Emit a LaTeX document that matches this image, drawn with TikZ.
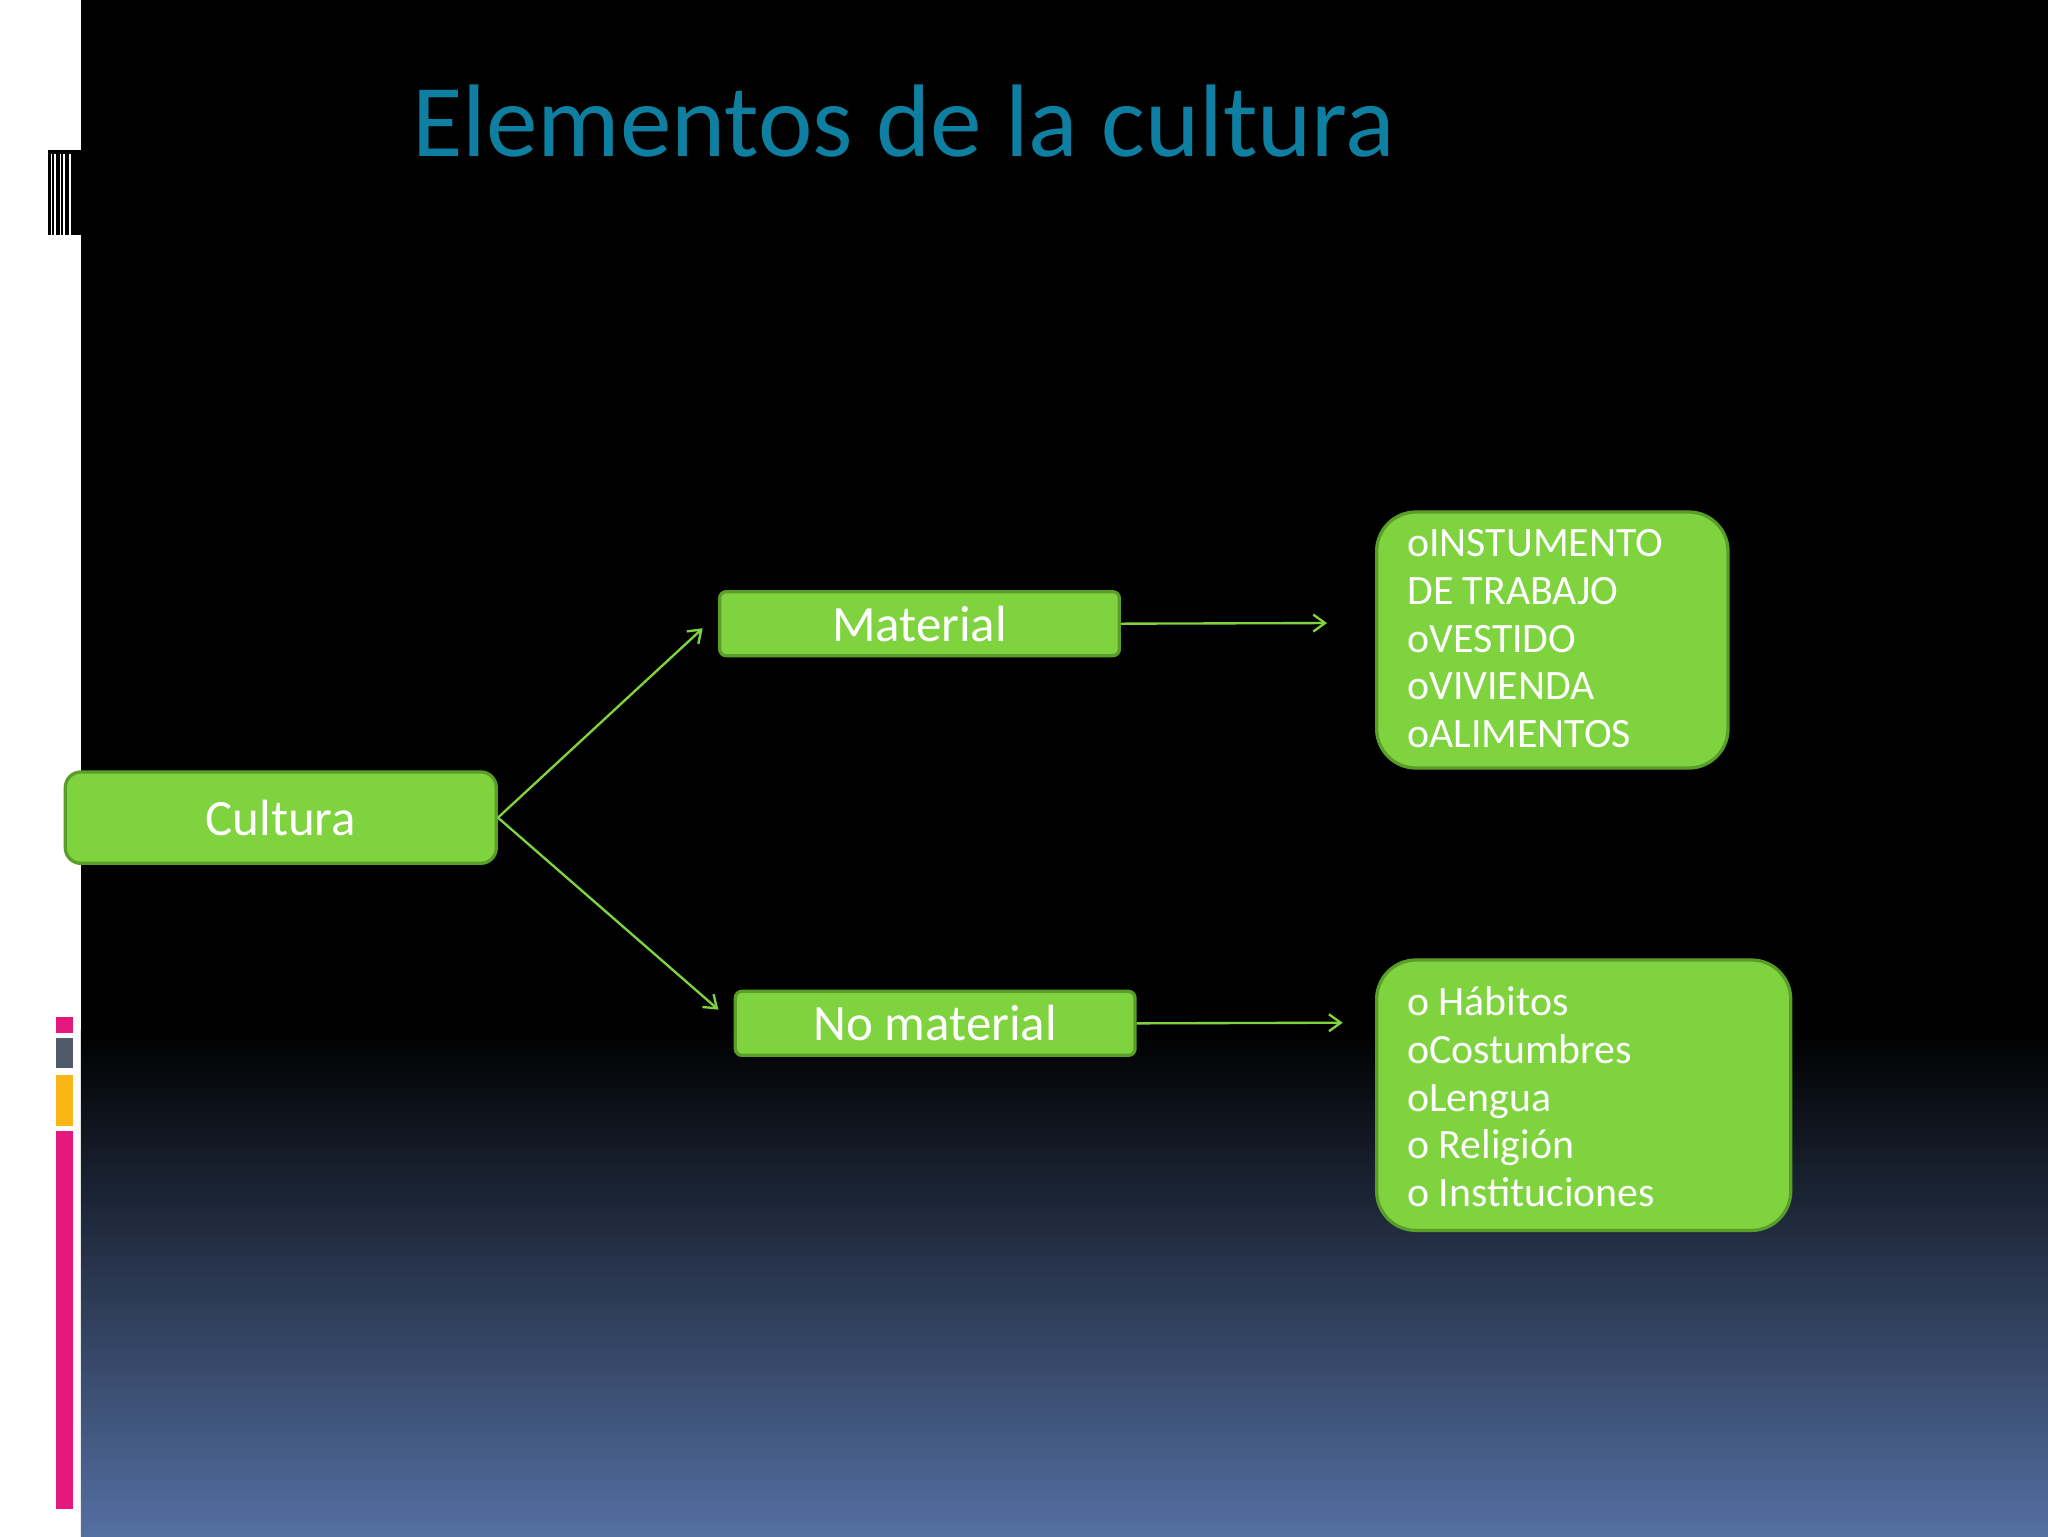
\documentclass[tikz,border=0pt]{standalone}
\usepackage{fontspec}
\setmainfont{Carlito}
\usetikzlibrary{arrows.meta}
\definecolor{gr}{HTML}{7ED33E}
\definecolor{grd}{HTML}{5A9E2A}
\definecolor{ttl}{HTML}{0E7FA0}
\definecolor{bot}{HTML}{546FA2}
\definecolor{pk}{HTML}{E6177D}
\definecolor{gy}{HTML}{505A69}
\definecolor{og}{HTML}{FAB414}
\begin{document}
\begin{tikzpicture}[x=1pt,y=-1pt,
  box/.style={fill=gr,draw=grd,line width=2.5pt,text=white,inner sep=0pt},
  conn/.style={draw=gr,line width=1.8pt,-{Straight Barb[length=9pt,width=13pt]}}]
\useasboundingbox (0,0) rectangle (1568,1176);
\fill[white] (0,0) rectangle (1568,1176);
\fill[black] (62,0) rectangle (1568,790);
\shade[top color=black,bottom color=bot] (62,789) rectangle (1568,1176);
% barcode
\foreach \x/\w in {37/2,40/1.5,43/3,47/1.5,50/3,54/8}{\fill[black] (\x,115) rectangle (\x+\w,180);}
\fill[black] (37,115) rectangle (62,118);
\fill[pk] (43,779) rectangle (56,791);
\fill[gy] (43,795) rectangle (56,818);
\fill[og] (43,823) rectangle (56,862);
\fill[pk] (43,866) rectangle (56,1155);
\node[text=ttl,font=\fontsize{79}{80}\selectfont] (t) at (692,93) {Elementos de la cultura};
\node[box,rounded corners=12pt,minimum width=330pt,minimum height=70pt,font=\fontsize{39}{40}\selectfont] (c) at (215,626) {Cultura};
\node[box,rounded corners=5pt,minimum width=306pt,minimum height=49pt,font=\fontsize{39}{40}\selectfont] (m) at (704,477.5) {Material};
\node[box,rounded corners=5pt,minimum width=306pt,minimum height=49pt,font=\fontsize{39}{40}\selectfont] (n) at (716,783.5) {No material};
\node[box,rounded corners=30pt,minimum width=269pt,minimum height=196pt] (l1) at (1188.5,490) {};
\node[text=white,anchor=north west,align=left,font=\fontsize{32}{36.5}\selectfont] (l1t) at (1074,402)
 {oINSTUMENTO\\DE TRABAJO\\oVESTIDO\\oVIVIENDA\\oALIMENTOS};
\node[box,rounded corners=30pt,minimum width=317pt,minimum height=207pt] (l2) at (1212.5,838.5) {};
\node[text=white,anchor=north west,align=left,font=\fontsize{32}{36.5}\selectfont] (l2t) at (1074,752)
 {o Hábitos\\oCostumbres\\oLengua\\o Religión\\o Instituciones};
\coordinate (a1) at (538,481);
\coordinate (a2) at (550,773);
\coordinate (a3) at (1016,477);
\coordinate (a4) at (1028,783);
\draw[conn] (c.east) -- (a1);
\draw[conn] (c.east) -- (a2);
\draw[conn] (m.east) -- (a3);
\draw[conn] (n.east) -- (a4);
\end{tikzpicture}
\end{document}
